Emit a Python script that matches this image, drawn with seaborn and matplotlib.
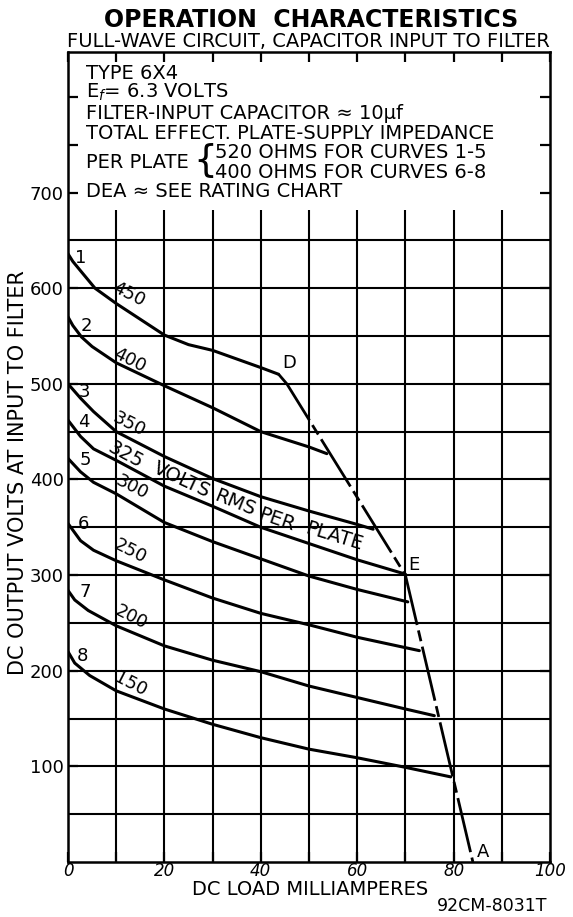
import matplotlib
matplotlib.use("Agg")
import matplotlib.pyplot as plt
import pandas as pd
import seaborn as sns

# curve labels
curve_ids = ["1", "2", "3", "4", "5", "6", "7", "8"]
rms_labels = ["450", "400", "350", "300", "250", "200", "150"]
plate_words = ["325", "VOLTS", "RMS", "PER", "PLATE"]

# DC load (mA) / DC output volts, one pair per curve
ma_1 = [0, 1, 2.8, 5.6, 10, 20, 25, 30, 40, 43.7]
volts_1 = [636, 628, 617, 600, 584, 551, 541, 535, 517, 510]
ma_2 = [0, 1, 2.8, 5, 10, 20, 30, 40, 50, 53.7]
volts_2 = [570, 561, 549, 539, 522, 498, 475, 450, 434, 427]
ma_3 = [0, 2.6, 5.3, 10, 20, 30, 40, 50, 60, 63.3]
volts_3 = [500, 485, 471, 450, 424, 401, 382, 367, 353, 348]
ma_4 = [0, 2.6, 5.3, 10, 20, 30, 40, 50, 60, 70]
volts_4 = [462, 445, 432, 420, 393, 372, 350, 333, 316, 301]
ma_5 = [0, 2.6, 5.3, 10, 20, 30, 40, 50, 60, 70.5]
volts_5 = [422, 408, 397, 385, 355, 335, 317, 299, 285, 272]
ma_6 = [0, 2.6, 5.3, 10, 20, 30, 40, 50, 60, 72.9]
volts_6 = [354, 336, 326, 315, 295, 276, 260, 248, 235, 221]
ma_7 = [0, 1.4, 4.2, 10, 20, 30, 40, 50, 60, 70, 76]
volts_7 = [284, 274, 263, 247, 226, 211, 199, 184, 172, 160, 153]
ma_8 = [0, 1.4, 4.5, 10, 20, 30, 40, 50, 60, 70, 79.4]
volts_8 = [220, 208, 195, 179, 160, 144, 130, 118, 109, 99, 89]

# limit line D-E-A
dea_ma = [43.7, 45.4, 70, 84]
dea_volts = [510, 500, 300, 0]
dea_names = ["D", "E", "A"]

all_ma = [ma_1, ma_2, ma_3, ma_4, ma_5, ma_6, ma_7, ma_8]
all_volts = [volts_1, volts_2, volts_3, volts_4, volts_5, volts_6, volts_7, volts_8]

rows = []
for cid, xs, ys in zip(curve_ids, all_ma, all_volts):
    for x, y in zip(xs, ys):
        rows.append({"curve": cid, "ma": x, "volts": y})
df = pd.DataFrame(rows)
dea = pd.DataFrame({"ma": dea_ma, "volts": dea_volts})

sns.set_style("white")
plt.rcParams["font.family"] = ["DejaVu Sans"]
plt.rcParams["text.color"] = "black"
plt.rcParams["xtick.color"] = "black"
plt.rcParams["ytick.color"] = "black"
plt.rcParams["axes.labelcolor"] = "black"

fig = plt.figure(figsize=(5.73, 9.17), dpi=100)
ax = fig.add_axes([68 / 573, 55 / 917, 482 / 573, 810 / 917])
ax.set_xlim(0, 100)
ax.set_ylim(0, 847)

# grid, drawn heavy like the printed sheet
ax.hlines(range(50, 651, 50), 0, 100, color="black", lw=1.5, zorder=1)
ax.vlines(range(10, 100, 10), 0, 682, color="black", lw=1.5, zorder=1)

sns.lineplot(data=df, x="ma", y="volts", units="curve", estimator=None,
             color="black", lw=2.2, ax=ax, zorder=3)
sns.lineplot(data=dea, x="ma", y="volts", estimator=None, color="black",
             lw=2.0, linestyle=(0, (20, 2, 4, 2)), ax=ax, zorder=3)

for sp in ax.spines.values():
    sp.set_linewidth(1.8)
    sp.set_color("black")

ax.set_xticks(range(0, 101, 10))
ax.set_xticklabels(["0", "", "20", "", "40", "", "60", "", "80", "", "100"],
                   fontstyle="italic", fontsize=12)
ax.set_yticks(range(100, 701, 100))
ax.set_yticklabels([str(v) for v in range(100, 701, 100)], fontsize=13)
ax.set_yticks([750, 800], minor=True)
ax.tick_params(which="both", direction="in", length=7, width=1.6,
               left=True, right=True, top=True, bottom=True, pad=3)
ax.tick_params(axis="x", pad=0)
ax.set_xlabel("")
ax.set_ylabel("")

# curve numbers near the left edge
num_x = [2.6, 3.9, 3.5, 3.2, 3.5, 3.3, 3.5, 2.9]
num_y = [632, 561, 491, 460, 420, 353, 282, 215]
for t, x, y in zip(curve_ids, num_x, num_y):
    ax.text(x, y, t, fontsize=13, ha="center", va="center")

# rms volts along curves
lab_x = [12.6, 12.8, 12.6, 13.2, 12.8, 13.0, 13.0]
lab_y = [594, 525, 458, 392, 325, 256, 186]
for t, x, y in zip(rms_labels, lab_x, lab_y):
    ax.text(x, y, t, fontsize=13, ha="center", va="center", rotation=-27,
            rotation_mode="anchor")

# "325 VOLTS RMS PER PLATE" set word by word between curves 3 and 4
word_x = [12.0, 23.6, 34.7, 43.2, 55.2]
word_y = [426, 400, 376, 358, 340]
word_rot = [-28, -25, -22, -19, -17]
for t, x, y, r in zip(plate_words, word_x, word_y, word_rot):
    ax.text(x, y, t, fontsize=14, ha="center", va="center", rotation=r,
            rotation_mode="anchor")

# D, E, A
for t, x, y in zip(dea_names, [45.8, 71.8, 86.2], [522, 311, 10]):
    ax.text(x, y, t, fontsize=13, ha="center", va="center")

# notes box inside the plot
tx = 3.7
fs = 14
ax.text(tx, 825, "TYPE 6X4", fontsize=fs, va="center")
ax.text(tx, 805, r"E$_{\mathit{f}}$= 6.3 VOLTS", fontsize=fs, va="center")
ax.text(tx, 783, "FILTER-INPUT CAPACITOR ≈ 10μf", fontsize=fs, va="center")
ax.text(tx, 762, "TOTAL EFFECT. PLATE-SUPPLY IMPEDANCE", fontsize=fs, va="center")
ax.text(tx, 731, "PER PLATE", fontsize=fs, va="center")
ax.text(28.4, 733, "{", fontsize=27, va="center", ha="center")
ax.text(30.5, 742, "520 OHMS FOR CURVES 1-5", fontsize=fs, va="center")
ax.text(30.5, 721, "400 OHMS FOR CURVES 6-8", fontsize=fs, va="center")
ax.text(tx, 701, "DEA ≈ SEE RATING CHART", fontsize=fs, va="center")

fig.text(0.543, 0.978, "OPERATION  CHARACTERISTICS", fontsize=17,
         fontweight="bold", ha="center", va="center")
fig.text(0.539, 0.955, "FULL-WAVE CIRCUIT, CAPACITOR INPUT TO FILTER",
         fontsize=14, ha="center", va="center")
fig.text(0.031, 0.485, "DC OUTPUT VOLTS AT INPUT TO FILTER", fontsize=15,
         rotation=90, ha="center", va="center")
fig.text(0.541, 0.030, "DC LOAD MILLIAMPERES", fontsize=14,
         ha="center", va="center")
fig.text(0.859, 0.012, "92CM-8031T", fontsize=12.5, ha="center", va="center")

fig.savefig("out.png", dpi=100)
